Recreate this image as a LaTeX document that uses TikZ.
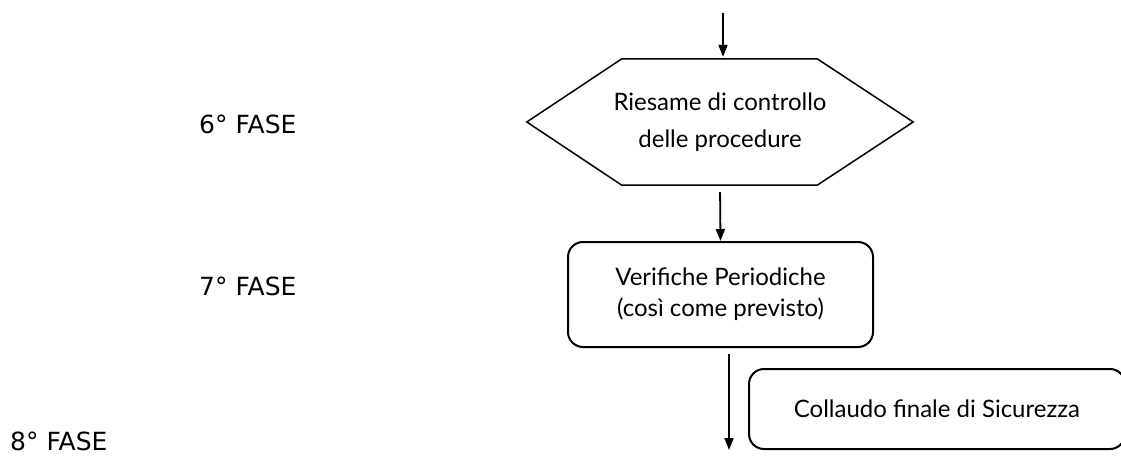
\documentclass[tikz,border=0pt]{standalone}
\usepackage{fontspec}
\setmainfont{DejaVu Sans}
\newfontfamily\boxfont{Lato}
\usepackage{tikz}
\usetikzlibrary{calc,arrows.meta}
\newcommand{\linecolor}{black}
\newcommand{\lw}{1.8pt}
\newcommand{\fasesize}{\fontsize{25}{30}\selectfont}

\tikzset{
  fase/.style={anchor=west, inner sep=0pt, font=\fasesize},
  flowarrow/.style={\linecolor, line width=\lw, -{Triangle[length=12pt,width=9pt]}},
  roundbox/.style={draw=\linecolor, line width=2pt, rounded corners=15pt, inner sep=0pt, align=center}
}

\begin{document}
\begin{tikzpicture}[x=1pt,y=-1pt]
\useasboundingbox (0,0) rectangle (1121,457);
%fasi
\node[fase] (f6) at (199,124) {6° FASE};
\node[fase] (f7) at (199,286) {7° FASE};
\node[fase] (f8) at (10,441) {8° FASE};
%6
\node[inner sep=0pt, minimum width=386pt, minimum height=126pt, align=center,
      font=\boxfont\fontsize{24}{37}\selectfont] (riesame) at (720,122) {Riesame di controllo\\delle procedure};
\draw[\linecolor, line width=1.5pt] (riesame.west) -- ($(riesame.north west)+(95,0)$)
  -- ($(riesame.north east)+(-96,0)$) -- (riesame.east)
  -- ($(riesame.south east)+(-96,0)$) -- ($(riesame.south west)+(95,0)$) -- cycle;
%7
\node[roundbox, minimum width=305pt, minimum height=105pt,
      font=\boxfont\fontsize{24}{31}\selectfont] (verifiche) at (720.5,294.5) {Verifiche Periodiche\\(così come previsto)};
%8
\node[roundbox, minimum width=376pt, minimum height=80pt,
      font=\boxfont\fontsize{24}{30}\selectfont] (collaudo) at (937,409) {\raisebox{-8pt}{Collaudo finale di Sicurezza}};
%frecce
\coordinate (start) at (723,13);
\coordinate (stop) at (729,450);
\draw[flowarrow, shorten >=2pt] (start) -- (start |- riesame.north);
\draw[flowarrow, shorten <=7pt] (riesame.south) -- (verifiche.north);
\draw[flowarrow, shorten <=6pt] (verifiche.south -| stop) -- (stop);
\end{tikzpicture}
\end{document}
